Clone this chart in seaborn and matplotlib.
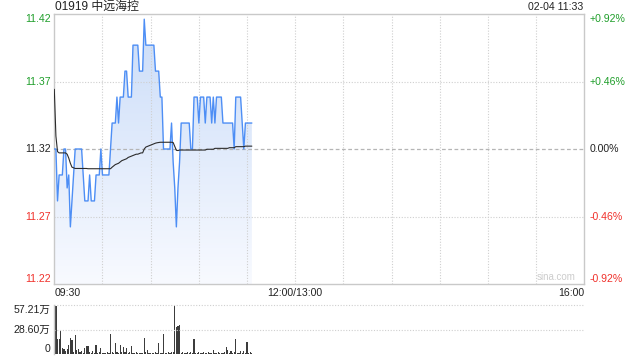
import numpy as np
import pandas as pd
import matplotlib
matplotlib.use('Agg')
import matplotlib.pyplot as plt
import seaborn as sns
from matplotlib.colors import LinearSegmentedColormap

sns.set_theme(style='white')
plt.rcParams['font.family'] = ['Liberation Sans', 'Noto Sans CJK SC', 'DejaVu Sans']

# ---------------- data ----------------
minutes = list(range(124))
price = [11.32, 11.32, 11.28, 11.30, 11.30, 11.30, 11.32, 11.32, 11.29, 11.30,
         11.26, 11.28, 11.30, 11.32, 11.32, 11.32, 11.32, 11.32, 11.30, 11.28,
         11.28, 11.28, 11.30, 11.28, 11.28, 11.28, 11.30, 11.30, 11.30, 11.32,
         11.30, 11.30, 11.30, 11.30, 11.30, 11.32, 11.34, 11.34, 11.34, 11.36,
         11.34, 11.36, 11.36, 11.36, 11.38, 11.38, 11.36, 11.36, 11.36, 11.40,
         11.40, 11.40, 11.40, 11.38, 11.38, 11.38, 11.42, 11.40, 11.40, 11.40,
         11.40, 11.40, 11.40, 11.38, 11.38, 11.38, 11.36, 11.36, 11.32, 11.32,
         11.32, 11.32, 11.32, 11.34, 11.31, 11.29, 11.26, 11.29, 11.31, 11.34,
         11.34, 11.34, 11.34, 11.34, 11.34, 11.32, 11.32, 11.36, 11.36, 11.36,
         11.34, 11.36, 11.36, 11.36, 11.34, 11.36, 11.36, 11.36, 11.34, 11.36,
         11.34, 11.36, 11.36, 11.36, 11.36, 11.34, 11.34, 11.34, 11.34, 11.34,
         11.34, 11.34, 11.32, 11.36, 11.36, 11.36, 11.36, 11.34, 11.32, 11.34,
         11.34, 11.34, 11.34, 11.34]
avg_price = [11.366, 11.330, 11.318, 11.317, 11.317, 11.317, 11.317, 11.317, 11.316, 11.313,
             11.309, 11.306, 11.3055, 11.305, 11.305, 11.305, 11.305, 11.305, 11.305, 11.305,
             11.305, 11.3048, 11.3048, 11.3048, 11.3048, 11.3048, 11.3048, 11.3048, 11.3048, 11.3048,
             11.3048, 11.3048, 11.3048, 11.3048, 11.3048, 11.3048, 11.306, 11.307, 11.308, 11.3085,
             11.309, 11.310, 11.311, 11.3115, 11.312, 11.3125, 11.3135, 11.314, 11.3145, 11.315,
             11.3155, 11.316, 11.316, 11.3165, 11.317, 11.317, 11.320, 11.3215, 11.322, 11.3225,
             11.323, 11.3235, 11.324, 11.3245, 11.3248, 11.325, 11.3252, 11.3252, 11.3252, 11.3252,
             11.3252, 11.3252, 11.3252, 11.3252, 11.325, 11.322, 11.319, 11.3188, 11.3192, 11.3192,
             11.3192, 11.3192, 11.3192, 11.3192, 11.3192, 11.3192, 11.3192, 11.3192, 11.3192, 11.3192,
             11.3192, 11.3192, 11.3192, 11.3192, 11.3192, 11.3198, 11.3198, 11.3198, 11.3198, 11.3198,
             11.3205, 11.3205, 11.3205, 11.3205, 11.3205, 11.3205, 11.3205, 11.3205, 11.3205, 11.321,
             11.321, 11.321, 11.321, 11.3218, 11.3218, 11.3218, 11.3218, 11.3218, 11.3218, 11.3222,
             11.3222, 11.3222, 11.3222, 11.3222]
volume_wan = [22.5, 56.0, 18.0, 17.0, 27.0, 7.0, 6.0, 3.0, 6.0, 10.0,
              19.0, 16.0, 2.0, 22.0, 5.0, 6.0, 2.0, 4.0, 1.0, 7.0,
              9.0, 9.0, 2.0, 1.0, 3.0, 1.0, 11.0, 1.0, 2.0, 7.0,
              1.0, 1.0, 1.0, 2.0, 1.0, 23.0, 2.0, 1.0, 13.0, 2.0,
              1.0, 11.0, 2.0, 8.0, 2.0, 7.0, 1.0, 2.0, 9.0, 1.0,
              1.0, 2.0, 1.0, 1.0, 1.0, 1.0, 19.0, 2.0, 5.0, 1.0,
              1.0, 1.0, 1.0, 2.0, 1.0, 13.0, 1.0, 1.0, 23.0, 1.0,
              1.0, 2.0, 1.0, 2.0, 2.0, 57.21, 32.0, 33.0, 33.5, 1.0,
              2.0, 1.0, 1.0, 2.0, 1.0, 2.0, 1.0, 18.0, 1.0, 1.0,
              2.0, 1.0, 1.0, 2.0, 1.0, 1.0, 2.0, 1.0, 1.0, 5.0,
              1.0, 1.0, 2.0, 1.0, 1.0, 1.0, 2.0, 8.0, 5.0, 1.0,
              4.0, 1.0, 2.0, 17.0, 1.0, 1.0, 3.0, 1.0, 4.0, 1.0,
              13.6, 1.0, 2.0, 1.0]

prev_close = 11.32
price_ticks = [11.424, 11.372, 11.32, 11.268, 11.216]
price_labels = ['11.42', '11.37', '11.32', '11.27', '11.22']
pct_labels = ['+0.92%', '+0.46%', '0.00%', '-0.46%', '-0.92%']
time_ticks = [0, 150, 330]
time_labels = ['09:30', '12:00/13:00', '16:00']
vol_ticks = [57.21, 28.60, 0]
vol_labels = ['57.21万', '28.60万', '0']
title_text = '01919 中远海控'
date_text = '02-04 11:33'

GREEN = '#1f9e2a'
RED = '#f0302a'
DARK = '#222222'
LINE = '#4d8ef5'
GRID = '#cfcfcf'
BORDER = '#c9c9c9'

# ---------------- figure ----------------
W, H = 640, 360
fig = plt.figure(figsize=(6.4, 3.6), dpi=100)
ax = fig.add_axes([54.3 / W, 76 / H, 530 / W, 270 / H])
axv = fig.add_axes([54.3 / W, 6 / H, 530 / W, 49 / H])

df = pd.DataFrame({'minute': minutes, 'price': price, 'avg': avg_price, 'vol': volume_wan})

# gradient fill under price line
poly = ax.fill_between(df['minute'], df['price'], price_ticks[-1], color='none', lw=0)
cmap = LinearSegmentedColormap.from_list('fillgrad', ['#f8faff', '#cadcf8'])
grad = np.linspace(0, 1, 256).reshape(-1, 1)
im = ax.imshow(grad, extent=[0, 330, price_ticks[-1], price_ticks[0]], origin='lower',
               aspect='auto', cmap=cmap, zorder=1, interpolation='bilinear')
im.set_clip_path(poly.get_paths()[0], ax.transData)

sns.lineplot(data=df, x='minute', y='price', ax=ax, color=LINE, linewidth=1.0, zorder=4)
sns.lineplot(data=df, x='minute', y='avg', ax=ax, color='#2b2b2b', linewidth=0.8, zorder=5)

ax.set_xlim(0, 330)
ax.set_ylim(price_ticks[-1], price_ticks[0])
ax.set_xlabel('')
ax.set_ylabel('')
ax.set_xticks([])
ax.set_yticks([])
for s in ax.spines.values():
    s.set_color(BORDER)
    s.set_linewidth(1.0)

# grid
for t in range(30, 330, 30):
    ax.axvline(t, color=GRID, lw=0.8, ls=(0, (1, 1.5)), zorder=2)
for yv in [price_ticks[1], price_ticks[3]]:
    ax.axhline(yv, color=GRID, lw=0.8, ls=(0, (1, 1.5)), zorder=2)
ax.axhline(prev_close, color='#b5b5b5', lw=0.9, ls=(0, (3, 2)), zorder=2)

# y labels
colors = [GREEN, GREEN, DARK, RED, RED]
vas = ['top', 'center', 'center', 'center', 'bottom']
ytr = ax.get_yaxis_transform()
for yv, lab, pl, c, va in zip(price_ticks, price_labels, pct_labels, colors, vas):
    ax.text(-0.006, yv, lab, transform=ytr, ha='right', va=va, fontsize=7.6, color=c)
    ax.text(1.0094, yv, pl, transform=ytr, ha='left', va=va, fontsize=7.6, color=c)

# x labels
xtr = ax.get_xaxis_transform()
for t, lab, ha in zip(time_ticks, time_labels, ['left', 'center', 'right']):
    ax.text(t, -0.034, lab, transform=xtr, ha=ha, va='center', fontsize=7.6, color=DARK)

ax.text(0.983, 0.008, 'sina.com', transform=ax.transAxes, ha='right', va='bottom',
        fontsize=7, color='#cccccc')

# title & date
fig.text(55 / W, 1 - 7 / H, title_text, ha='left', va='center', fontsize=8.6, color=DARK)
fig.text(583.5 / W, 1 - 7.3 / H, date_text, ha='right', va='center', fontsize=7.6, color=DARK)

# volume
sns.barplot(data=df, x='minute', y='vol', ax=axv, native_scale=True, color='#3c3c3c',
            saturation=1, width=0.75, errorbar=None, linewidth=0)
axv.set_xlim(0, 330)
axv.set_ylim(0, vol_ticks[0])
axv.set_xlabel('')
axv.set_ylabel('')
axv.set_xticks([])
axv.set_yticks([])
for k in ['top', 'right', 'bottom']:
    axv.spines[k].set_visible(False)
axv.spines['left'].set_color(BORDER)
axv.spines['left'].set_linewidth(1.0)
axv.axhline(vol_ticks[0], color=GRID, lw=0.8, ls=(0, (1, 1.5)), clip_on=False)
axv.axhline(vol_ticks[1], color=GRID, lw=0.8, ls=(0, (1, 1.5)))
vtr = axv.get_yaxis_transform()
for yv, lab, va in zip(vol_ticks, vol_labels, ['top', 'center', 'bottom']):
    axv.text(-0.008, yv, lab, transform=vtr, ha='right', va=va, fontsize=7.6, color=DARK)

fig.savefig('out.png', dpi=100)
